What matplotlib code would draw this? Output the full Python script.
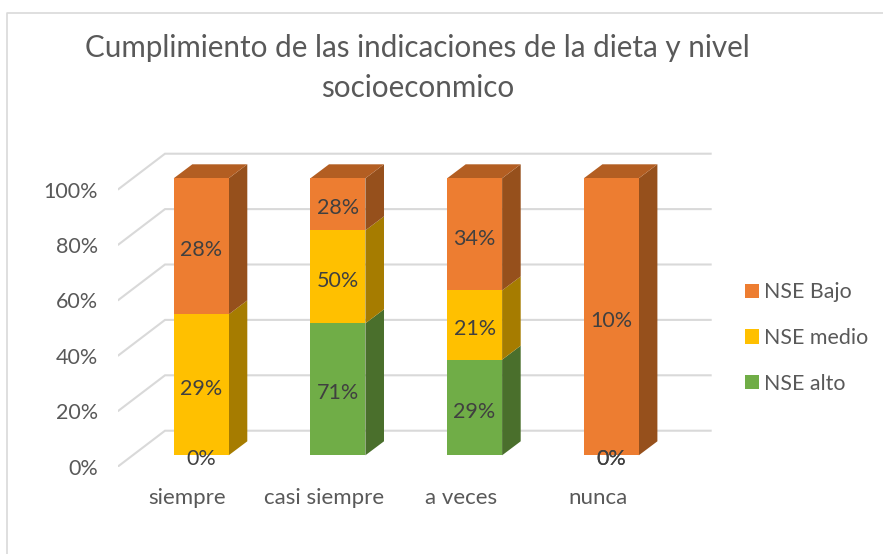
import numpy as np
import matplotlib
matplotlib.use('Agg')
import matplotlib.pyplot as plt
from matplotlib.lines import Line2D

plt.rcParams['font.family'] = ['Lato', 'DejaVu Sans']

categories = ['siempre', 'casi siempre', 'a veces', 'nunca']
nse_alto = [0, 71, 29, 0]
nse_medio = [29, 50, 21, 0]
nse_bajo = [28, 28, 34, 10]
y_ticks = [0, 20, 40, 60, 80, 100]

W, H = 883, 554
PX_X = 136.7   # px per category
PX_Y = 2.77    # px per percent
depth_x, depth_y = 18.6 / PX_X, 14 / PX_Y
wall_x0, wall_x1 = (165 - 201.2) / PX_X, (711.7 - 201.2) / PX_X
wall_y = 24.6 / PX_Y
floor_x, floor_y = (117.7 - 201.2) / PX_X, -11.4 / PX_Y
bar_w = 55 / PX_X

fig = plt.figure(figsize=(W / 100, H / 100), dpi=100)
# axes spans from the front floor corner, so that x=0 is the first bar centre
ax_right, ax_top = 720, 140
ax = fig.add_axes([117.7 / W, 1 - 466.7 / H, (ax_right - 117.7) / W, (466.7 - ax_top) / H])
ax.set_xlim(floor_x, floor_x + (ax_right - 117.7) / PX_X)
ax.set_ylim(floor_y, floor_y + (466.7 - ax_top) / PX_Y)
for s in ax.spines.values():
    s.set_visible(False)

grid_c = '#d9d9d9'
for t in y_ticks:
    ax.plot([floor_x, wall_x0, wall_x1], [t + floor_y, t + wall_y, t + wall_y],
            color=grid_c, lw=1.5, zorder=1, solid_joinstyle='miter', solid_capstyle='butt')

x = np.arange(len(categories))
series = [('NSE alto', nse_alto, '#70ad47', '#4a6f2c'),
          ('NSE medio', nse_medio, '#ffc000', '#a67c00'),
          ('NSE Bajo', nse_bajo, '#ed7d31', '#96501c')]
totals = np.sum([s[1] for s in series], axis=0)
bottom = np.zeros(len(categories))
handles = []
for name, vals, front, side in series:
    vals = np.array(vals)
    h = vals / totals * 100
    bars = ax.bar(x, h, bar_w, bottom=bottom, color=front, label=name, zorder=3)
    handles.append(bars)
    for xi, b, hi in zip(x, bottom, h):
        xr = xi + bar_w / 2
        ax.fill([xr, xr + depth_x, xr + depth_x, xr],
                [b, b + depth_y, b + hi + depth_y, b + hi], color=side, lw=0, zorder=2.5)
    for xi, b, hi, v in zip(x, bottom, h, vals):
        ax.text(xi, b + hi / 2 - 1.5, f'{v}%', ha='center', va='center',
                fontsize=15.5, color='#404040', zorder=5)
    bottom = bottom + h

# top caps
ax.fill(np.array([[xi - bar_w / 2, xi + bar_w / 2, xi + bar_w / 2 + depth_x, xi - bar_w / 2 + depth_x] for xi in x]).T,
        np.tile([100, 100, 100 + depth_y, 100 + depth_y], (len(x), 1)).T,
        color='#b35e22', lw=0, zorder=2.5)

ax.set_yticks([t + floor_y for t in y_ticks], [f'{t}%' for t in y_ticks])
ax.set_xticks(x - 0.1, categories)
ax.tick_params(axis='both', length=0, labelcolor='#595959')
ax.tick_params(axis='y', pad=14, labelsize=15.5)
ax.tick_params(axis='x', pad=15, labelsize=16)

fig.text(417.5 / W, 1 - 68 / H, 'Cumplimiento de las indicaciones de la dieta y nivel\nsocioeconmico',
         ha='center', va='center', fontsize=21.3, color='#595959', linespacing=1.5)

fig.legend(handles[::-1], [s[0] for s in series[::-1]], loc='center left',
           bbox_to_anchor=(726 / W, 1 - 338 / H), frameon=False, fontsize=15.4,
           handlelength=0.65, handleheight=0.65, handletextpad=0.21, labelspacing=1.2,
           labelcolor='#595959')

fig.add_artist(Line2D([6.5 / W, 6.5 / W, 1], [0, 1 - 13 / H, 1 - 13 / H], color=grid_c, lw=1.2))

fig.savefig('out.png', dpi=100)
